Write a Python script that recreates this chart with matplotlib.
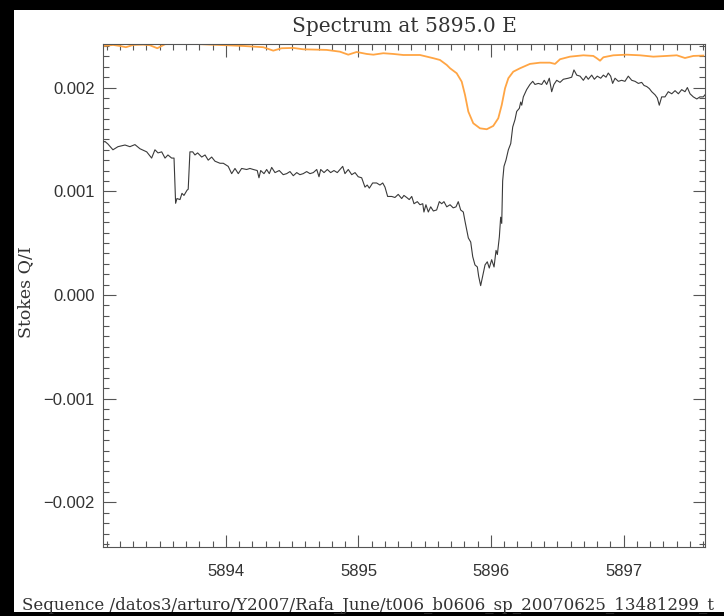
import matplotlib
matplotlib.use("Agg")
import matplotlib.pyplot as plt
from matplotlib.patches import Rectangle
from matplotlib.ticker import FixedLocator, MultipleLocator, FuncFormatter

# ---------------- data ----------------
title_text = "Spectrum at 5895.0 E"
ylabel_text = "Stokes Q/I"
footer_text = "Sequence /datos3/arturo/Y2007/Rafa_June/t006_b0606_sp_20070625_13481299_t"

x_ticks = [5894, 5895, 5896, 5897]
y_ticks = [-0.002, -0.001, 0.000, 0.001, 0.002]

# Stokes Q/I (black)
q_wave = [5893.064, 5893.087, 5893.109, 5893.147, 5893.185, 5893.238, 5893.275, 5893.313,
          5893.351, 5893.402, 5893.439, 5893.464, 5893.487, 5893.515, 5893.540, 5893.562,
          5893.590, 5893.608, 5893.620, 5893.630, 5893.653, 5893.668, 5893.683, 5893.706,
          5893.715, 5893.728, 5893.749, 5893.766, 5893.786, 5893.817, 5893.842, 5893.866,
          5893.892, 5893.917, 5893.955, 5893.980, 5894.017, 5894.043, 5894.068, 5894.093,
          5894.118, 5894.156, 5894.181, 5894.206, 5894.236, 5894.249, 5894.262, 5894.287,
          5894.307, 5894.327, 5894.345, 5894.370, 5894.402, 5894.432, 5894.458, 5894.483,
          5894.508, 5894.534, 5894.558, 5894.583, 5894.609, 5894.634, 5894.659, 5894.685,
          5894.702, 5894.715, 5894.740, 5894.765, 5894.790, 5894.815, 5894.840, 5894.860,
          5894.881, 5894.898, 5894.923, 5894.949, 5894.974, 5894.998, 5895.024, 5895.049,
          5895.066, 5895.082, 5895.107, 5895.137, 5895.162, 5895.183, 5895.200, 5895.220,
          5895.251, 5895.275, 5895.300, 5895.326, 5895.343, 5895.364, 5895.383, 5895.402,
          5895.419, 5895.444, 5895.464, 5895.485, 5895.494, 5895.509, 5895.527, 5895.545,
          5895.565, 5895.590, 5895.610, 5895.628, 5895.645, 5895.666, 5895.691, 5895.715,
          5895.736, 5895.753, 5895.771, 5895.791, 5895.804, 5895.829, 5895.847, 5895.862,
          5895.879, 5895.897, 5895.907, 5895.922, 5895.937, 5895.955, 5895.972, 5895.987,
          5896.005, 5896.023, 5896.038, 5896.048, 5896.063, 5896.073, 5896.081, 5896.088,
          5896.098, 5896.113, 5896.131, 5896.149, 5896.164, 5896.181, 5896.194, 5896.214,
          5896.224, 5896.232, 5896.244, 5896.269, 5896.294, 5896.315, 5896.332, 5896.357,
          5896.383, 5896.402, 5896.420, 5896.440, 5896.458, 5896.475, 5896.496, 5896.521,
          5896.546, 5896.583, 5896.609, 5896.626, 5896.647, 5896.672, 5896.697, 5896.717,
          5896.734, 5896.760, 5896.780, 5896.802, 5896.828, 5896.848, 5896.868, 5896.885,
          5896.903, 5896.918, 5896.936, 5896.961, 5896.986, 5897.011, 5897.036, 5897.062,
          5897.087, 5897.112, 5897.137, 5897.155, 5897.175, 5897.195, 5897.213, 5897.238,
          5897.255, 5897.270, 5897.288, 5897.313, 5897.338, 5897.364, 5897.389, 5897.414,
          5897.439, 5897.464, 5897.482, 5897.502, 5897.527, 5897.553, 5897.577, 5897.602,
          5897.615]
q_vals = [0.00147, 0.00148, 0.001456, 0.00140, 0.00143, 0.001446, 0.00143, 0.00145,
          0.00141, 0.00138, 0.00132, 0.00140, 0.00137, 0.00138, 0.00132, 0.00135,
          0.00132, 0.00132, 0.000884, 0.00093, 0.00092, 0.00098, 0.00096, 0.00101,
          0.00102, 0.00138, 0.00138, 0.00135, 0.00137, 0.00133, 0.00135, 0.00130,
          0.00133, 0.00129, 0.00127, 0.00127, 0.00124, 0.00117, 0.00122, 0.00117,
          0.00122, 0.00121, 0.00122, 0.00121, 0.00120, 0.00113, 0.00120, 0.00117,
          0.00121, 0.00117, 0.00123, 0.00118, 0.00120, 0.00116, 0.00117, 0.00119,
          0.00115, 0.00118, 0.00116, 0.00117, 0.00119, 0.00117, 0.00118, 0.00121,
          0.00114, 0.00121, 0.00118, 0.00121, 0.00118, 0.00120, 0.00118, 0.00121,
          0.00124, 0.00117, 0.00121, 0.00116, 0.00118, 0.00114, 0.00113, 0.00104,
          0.00106, 0.00103, 0.00108, 0.00108, 0.00106, 0.00108, 0.00104, 0.00095,
          0.00095, 0.00094, 0.00097, 0.00093, 0.00096, 0.00094, 0.00092, 0.00095,
          0.00088, 0.00090, 0.00087, 0.00088, 0.00080, 0.00087, 0.00080, 0.00085,
          0.00081, 0.00082, 0.00090, 0.00088, 0.00090, 0.00085, 0.00087, 0.00084,
          0.00085, 0.00090, 0.00082, 0.00080, 0.00071, 0.00055, 0.00051, 0.00037,
          0.00029, 0.00027, 0.00018, 0.00009, 0.00018, 0.00029, 0.00032, 0.00026,
          0.00034, 0.00027, 0.00043, 0.00039, 0.00056, 0.00075, 0.00069, 0.00110,
          0.00124, 0.00130, 0.00140, 0.00146, 0.00162, 0.00169, 0.00177, 0.00180,
          0.00186, 0.00183, 0.00191, 0.00198, 0.00203, 0.00206, 0.00203, 0.00204,
          0.00203, 0.00207, 0.00203, 0.00209, 0.00196, 0.00203, 0.00207, 0.00205,
          0.00208, 0.00209, 0.00210, 0.00217, 0.00212, 0.00211, 0.00207, 0.00211,
          0.00208, 0.00212, 0.00208, 0.00211, 0.00209, 0.00212, 0.00210, 0.00214,
          0.00211, 0.00204, 0.00209, 0.00206, 0.00207, 0.00206, 0.00211, 0.00207,
          0.00206, 0.00204, 0.00205, 0.00202, 0.00201, 0.00199, 0.00196, 0.00193,
          0.00190, 0.00183, 0.00191, 0.00191, 0.00196, 0.00194, 0.00197, 0.00194,
          0.00198, 0.00196, 0.00200, 0.00194, 0.00191, 0.00189, 0.00191, 0.00191,
          0.00193]

# Scaled intensity profile (orange)
i_wave = [5893.074, 5893.149, 5893.200, 5893.245, 5893.300, 5893.376, 5893.426, 5893.482,
          5893.540, 5893.628, 5893.708, 5893.779, 5893.879, 5894.005, 5894.131, 5894.282,
          5894.357, 5894.420, 5894.508, 5894.583, 5894.760, 5894.860, 5894.923, 5894.986,
          5895.062, 5895.112, 5895.187, 5895.263, 5895.338, 5895.464, 5895.565, 5895.615,
          5895.666, 5895.691, 5895.741, 5895.779, 5895.804, 5895.829, 5895.866, 5895.917,
          5895.968, 5896.017, 5896.055, 5896.081, 5896.106, 5896.131, 5896.168, 5896.219,
          5896.294, 5896.370, 5896.445, 5896.483, 5896.521, 5896.596, 5896.697, 5896.772,
          5896.798, 5896.823, 5896.848, 5896.923, 5897.024, 5897.125, 5897.225, 5897.326,
          5897.402, 5897.464, 5897.527, 5897.602]
i_vals = [0.002401, 0.002411, 0.002401, 0.002389, 0.002411, 0.002414, 0.002408, 0.002379,
          0.002418, 0.002427, 0.002433, 0.002420, 0.002414, 0.002408, 0.002401, 0.002389,
          0.002356, 0.002379, 0.002382, 0.002369, 0.002363, 0.002346, 0.002317, 0.002343,
          0.002324, 0.002317, 0.002331, 0.002324, 0.002314, 0.002314, 0.002283, 0.002266,
          0.002218, 0.002186, 0.002138, 0.002057, 0.001929, 0.001768, 0.001656, 0.001607,
          0.001598, 0.001630, 0.001704, 0.001832, 0.001993, 0.002090, 0.002153, 0.002186,
          0.002228, 0.002240, 0.002240, 0.002228, 0.002273, 0.002298, 0.002311, 0.002305,
          0.002283, 0.002259, 0.002292, 0.002311, 0.002317, 0.002311, 0.002298, 0.002305,
          0.002311, 0.002285, 0.002305, 0.002308]

x_range = (5893.072, 5897.615)
y_range = (-0.00243, 0.00242)

# ---------------- figure ----------------
W, H = 724, 616
fig = plt.figure(figsize=(W / 100, H / 100), dpi=100, facecolor="black")

# white page area inside the black frame
page = Rectangle((14 / W, 1 - 612 / H), (W - 14) / W, (612 - 10) / H,
                 transform=fig.transFigure, facecolor="white",
                 edgecolor="none", zorder=-10)
fig.patches.append(page)

ax = fig.add_axes([103 / W, 1 - 547 / H, (705 - 103) / W, (547 - 44) / H])
ax.set_zorder(5)
ax.set_facecolor("white")

ax.plot(i_wave, i_vals, color="#ffa544", lw=1.3, zorder=2)
ax.plot(q_wave, q_vals, color="#3a3a3a", lw=0.8, zorder=3)

ax.set_xlim(*x_range)
ax.set_ylim(*y_range)


def yfmt(v, pos):
    s = "%.3f" % abs(v)
    return ("\u2212" + s) if v < -1e-12 else s


ax.xaxis.set_major_locator(FixedLocator(x_ticks))
ax.xaxis.set_minor_locator(MultipleLocator(0.1))
ax.yaxis.set_major_locator(FixedLocator(y_ticks))
ax.yaxis.set_minor_locator(MultipleLocator(0.0001))
ax.yaxis.set_major_formatter(FuncFormatter(yfmt))

for s in ax.spines.values():
    s.set_color("#555555")
    s.set_linewidth(0.8)

ax.tick_params(which="both", direction="in", top=True, right=True,
               color="#555555", width=0.8)
ax.tick_params(which="major", length=9)
ax.tick_params(which="minor", length=4.5)
ax.tick_params(axis="x", which="major", pad=12)
ax.tick_params(axis="y", which="major", pad=6)
for lab in ax.get_xticklabels() + ax.get_yticklabels():
    lab.set_fontfamily(["Liberation Sans", "DejaVu Sans"])
    lab.set_fontsize(12)
    lab.set_color("#333333")

fig.text(404 / W, 1 - 26 / H, title_text, ha="center", va="center",
         fontsize=14.5, family="DejaVu Serif", color="#333333", zorder=6)
fig.text(26 / W, 1 - 292 / H, ylabel_text, ha="center", va="center", rotation=90,
         fontsize=12.5, family="DejaVu Serif", color="#333333", zorder=6)
fig.text(22 / W, 1 - 606 / H, footer_text, ha="left", va="center",
         fontsize=12, family="DejaVu Serif", color="#333333", zorder=6)

fig.savefig("out.png", dpi=100, facecolor="black")
